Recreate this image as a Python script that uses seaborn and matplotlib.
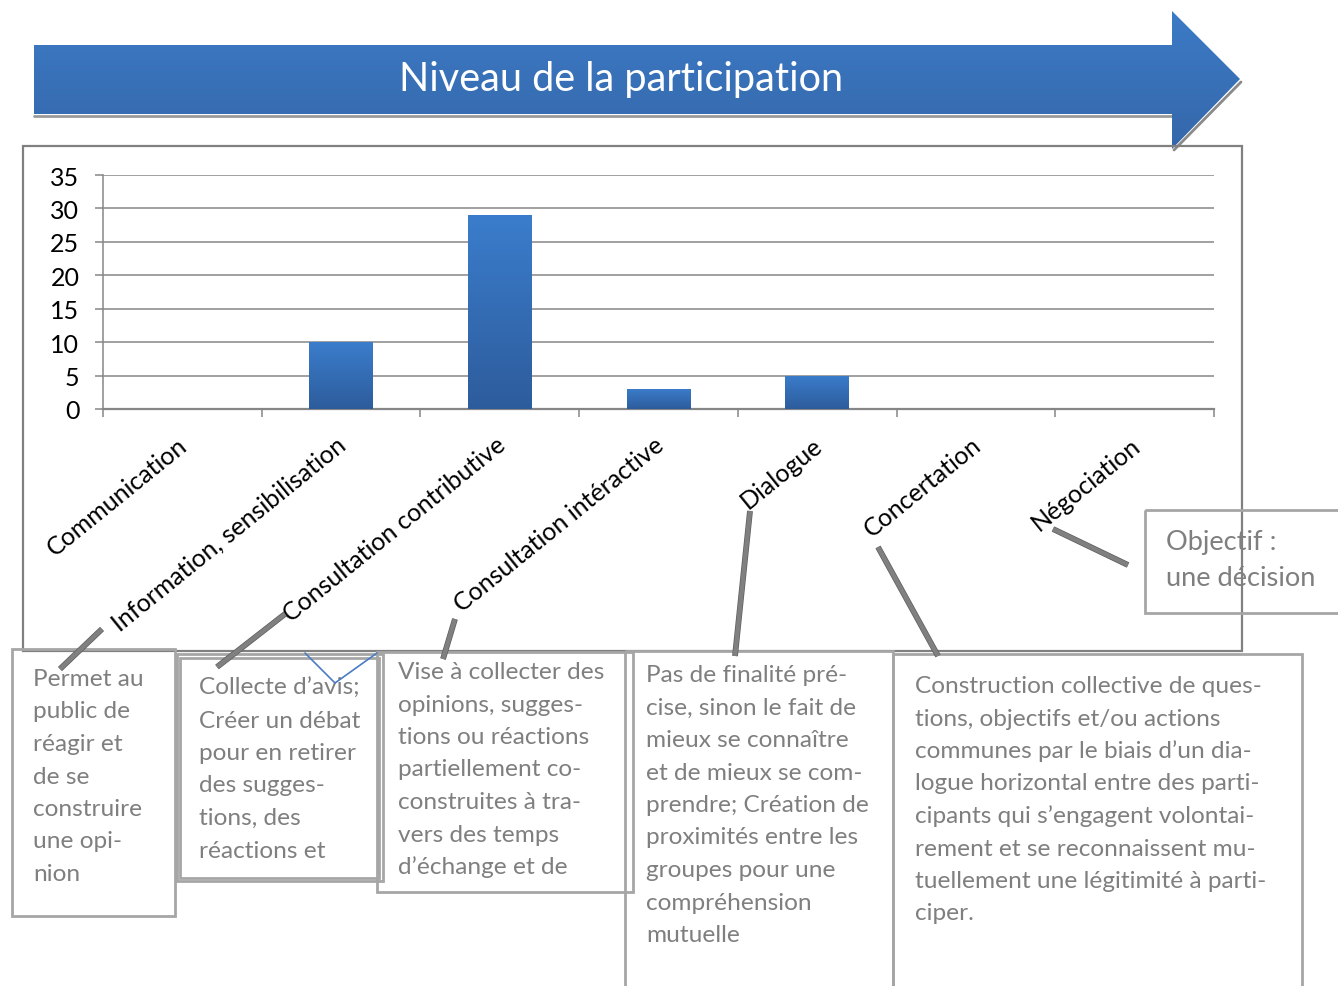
import numpy as np
import matplotlib
matplotlib.use("Agg")
import matplotlib.pyplot as plt
import matplotlib.transforms as mtransforms
import seaborn as sns
import pandas as pd
from matplotlib.patches import Polygon, Rectangle
from matplotlib.colors import LinearSegmentedColormap
import matplotlib.patheffects as pe

# ---------------- data ----------------
categories = ["Communication", "Information, sensibilisation",
              "Consultation contributive", "Consultation intéractive",
              "Dialogue", "Concertation", "Négociation"]
values = [0, 10, 29, 3, 5, 0, 0]
y_ticks = [0, 5, 10, 15, 20, 25, 30, 35]
title = "Niveau de la participation"

box1_lines = ["Permet au", "public de", "réagir et", "de se", "construire", "une opi-", "nion"]
box2_lines = ["Collecte d’avis;", "Créer un débat", "pour en retirer", "des sugges-",
              "tions, des", "réactions et"]
box3_lines = ["Vise à collecter des", "opinions, sugges-", "tions ou réactions",
              "partiellement co-", "construites à tra-", "vers des temps", "d’échange et de"]
box4_lines = ["Pas de finalité pré-", "cise, sinon le fait de", "mieux se connaître",
              "et de mieux se com-", "prendre; Création de", "proximités entre les",
              "groupes pour une", "compréhension", "mutuelle"]
box5_lines = ["Construction collective de ques-", "tions, objectifs et/ou actions",
              "communes par le biais d’un dia-", "logue horizontal entre des parti-",
              "cipants qui s’engagent volontai-", "rement et se reconnaissent mu-",
              "tuellement une légitimité à parti-", "ciper."]
box6_lines = ["Objectif :", "une décision"]

# ---------------- setup ----------------
sns.set_theme(style="white")
plt.rcParams['font.family'] = ['Lato', 'DejaVu Sans']

W, H = 1338, 987
fig = plt.figure(figsize=(W / 100, H / 100), dpi=100)
fig.patch.set_facecolor('white')


def fx(px):
    return px / W


def fy(py):
    return 1 - py / H


GRID = "#868686"
ax = fig.add_axes([fx(103), fy(410), fx(1214) - fx(103), fy(176) - fy(410)])
df = pd.DataFrame({"cat": categories, "val": values})
sns.barplot(data=df, x="cat", y="val", color="#3570b8", saturation=1,
            width=0.4, ax=ax, zorder=3, linewidth=0)

grad = np.linspace(0, 1, 256).reshape(-1, 1)
cmap_bar = LinearSegmentedColormap.from_list("b", ["#3b7dcc", "#2d5c9c"])
for p in list(ax.patches):
    p.set_linewidth(0)
    h = p.get_height()
    if h <= 0:
        p.set_visible(False)
        continue
    x0 = p.get_x()
    w = p.get_width()
    im = ax.imshow(grad, cmap=cmap_bar, extent=[x0, x0 + w, 0, h],
                   origin='upper', aspect='auto', zorder=4)
    im.set_clip_path(p)

ax.set_xlim(-0.5, 6.5)
ax.set_ylim(0, 35)
ax.set_yticks(y_ticks)
ax.set_xlabel("")
ax.set_ylabel("")
ax.yaxis.grid(True, color=GRID, lw=1.1)
ax.set_axisbelow(True)
for s in ["top", "right"]:
    ax.spines[s].set_visible(False)
ax.spines["left"].set_color(GRID)
ax.spines["left"].set_linewidth(1.1)
ax.spines["bottom"].set_color(GRID)
ax.spines["bottom"].set_linewidth(1.6)
ax.tick_params(axis='y', left=True, length=6, width=1.1, color=GRID, pad=11,
               labelsize=18, labelcolor="black")
ax.set_xticks(np.arange(-0.5, 7, 1), minor=True)
ax.tick_params(axis='x', which='minor', bottom=True, length=6, width=1.1, color=GRID)
ax.tick_params(axis='x', which='major', bottom=False, length=0, pad=17,
               labelsize=18, labelcolor="black")
shift = mtransforms.ScaledTranslation(-5 / 100, 0, fig.dpi_scale_trans)
for lab in ax.get_xticklabels():
    lab.set_rotation(39)
    lab.set_ha('right')
    lab.set_va('top')
    lab.set_rotation_mode('anchor')
    lab.set_transform(lab.get_transform() + shift)

# ---------------- overlay ----------------
ov = fig.add_axes([0, 0, 1, 1], zorder=10)
ov.set_xlim(0, W)
ov.set_ylim(H, 0)
ov.axis('off')
ov.patch.set_alpha(0)

# arrow
arrow_pts = [(34, 46), (1172, 46), (1172, 12), (1240, 80), (1172, 150), (1172, 115), (34, 115)]
ov.plot([34, 1172], [117, 117], color="#9a9a9a", lw=2, zorder=1)
ov.plot([1174, 1241], [151, 83], color="#8a8a8a", lw=2, zorder=1)
arrow = Polygon(arrow_pts, closed=True, facecolor="none", edgecolor="none", zorder=2)
ov.add_patch(arrow)
cmap_arr = LinearSegmentedColormap.from_list("a", ["#3c7bc6", "#3567aa"])
im = ov.imshow(grad, cmap=cmap_arr, extent=[34, 1240, 150, 12], origin='upper',
               aspect='auto', zorder=2)
im.set_clip_path(arrow)
ov.set_xlim(0, W)
ov.set_ylim(H, 0)
ov.text(621, 80, title, color='white', fontsize=28.5, ha='center', va='center', zorder=3)

# chart frame
ov.add_patch(Rectangle((23, 147), 1219, 505, fill=False, ec="#808080", lw=1.6, zorder=2))

# text boxes
BOX = "#a6a6a6"
TXT = "#7f7f7f"
boxes = [(12, 650, 163, 267), (177, 655, 206, 227), (180, 659, 199, 220),
         (377, 653, 256, 240), (625, 652, 268, 345), (893, 655, 409, 345),
         (1145, 511, 210, 103)]
for (x, y, w, h) in boxes:
    ov.add_patch(Rectangle((x, y), w, h, fill=False, ec=BOX, lw=2.0, zorder=3))


def put_lines(x, y, lines, step=32.5, size=17.6):
    for i, line in enumerate(lines):
        ov.text(x, y + i * step, line, color=TXT, fontsize=size, ha='left',
                va='baseline', zorder=4)


put_lines(33, 686, box1_lines)
put_lines(199, 695, box2_lines)
put_lines(398, 679, box3_lines)
put_lines(646, 682, box4_lines)
put_lines(915, 693, box5_lines)
put_lines(1166, 550, box6_lines, step=36.5, size=19.6)

# connector lines
conn = [((60, 670), (102, 630)), ((217, 668), (285, 615)), ((443, 660), (455, 620)),
        ((735, 657), (750, 512)), ((878, 548), (938, 657)), ((1053, 530), (1128, 566))]
for (a, b) in conn:
    ov.plot([a[0], b[0]], [a[1], b[1]], color="#808080", lw=3.2, solid_capstyle='butt',
            zorder=5, path_effects=[pe.Stroke(linewidth=4.2, foreground="#5e5e5e"), pe.Normal()])

# blue thin V
ov.plot([305, 335, 377], [654, 684, 654], color="#4a7cc4", lw=1.2, zorder=5)

fig.savefig("out.png", dpi=100, facecolor='white')
